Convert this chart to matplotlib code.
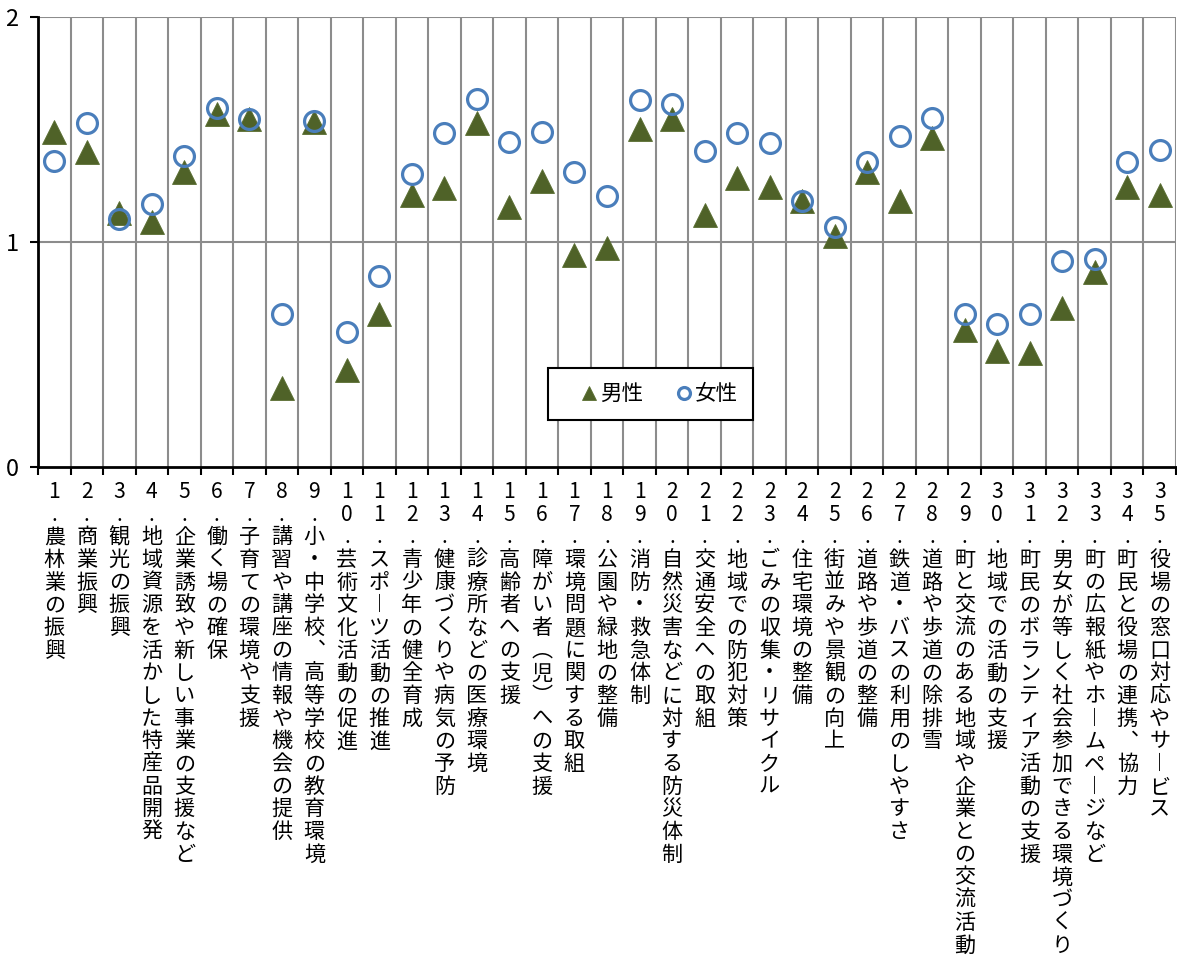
import matplotlib
matplotlib.use("Agg")
import matplotlib.pyplot as plt
from matplotlib.ticker import FixedLocator

plt.rcParams['font.family'] = ['Noto Sans CJK JP', 'DejaVu Sans']

categories = [
    "1.農林業の振興", "2.商業振興", "3.観光の振興", "4.地域資源を活かした特産品開発",
    "5.企業誘致や新しい事業の支援など", "6.働く場の確保", "7.子育ての環境や支援",
    "8.講習や講座の情報や機会の提供", "9.小・中学校、高等学校の教育環境",
    "10.芸術文化活動の促進", "11.スポーツ活動の推進", "12.青少年の健全育成",
    "13.健康づくりや病気の予防", "14.診療所などの医療環境", "15.高齢者への支援",
    "16.障がい者（児）への支援", "17.環境問題に関する取組", "18.公園や緑地の整備",
    "19.消防・救急体制", "20.自然災害などに対する防災体制", "21.交通安全への取組",
    "22.地域での防犯対策", "23.ごみの収集・リサイクル", "24.住宅環境の整備",
    "25.街並みや景観の向上", "26.道路や歩道の整備", "27.鉄道・バスの利用のしやすさ",
    "28.道路や歩道の除排雪", "29.町と交流のある地域や企業との交流活動",
    "30.地域での活動の支援", "31.町民のボランティア活動の支援",
    "32.男女が等しく社会参加できる環境づくり", "33.町の広報紙やホームページなど",
    "34.町民と役場の連携、協力", "35.役場の窓口対応やサービス",
]

male = [1.49, 1.40, 1.13, 1.09, 1.31, 1.57, 1.545, 0.35, 1.535, 0.43,
        0.68, 1.21, 1.24, 1.53, 1.155, 1.27, 0.94, 0.975, 1.50, 1.545,
        1.12, 1.285, 1.245, 1.18, 1.025, 1.31, 1.18, 1.46, 0.61, 0.515,
        0.505, 0.705, 0.865, 1.245, 1.21]
female = [1.36, 1.53, 1.10, 1.17, 1.38, 1.595, 1.547, 0.68, 1.538, 0.60,
          0.85, 1.30, 1.485, 1.635, 1.445, 1.49, 1.31, 1.205, 1.63, 1.615,
          1.405, 1.485, 1.44, 1.18, 1.065, 1.355, 1.47, 1.55, 0.68, 0.635,
          0.68, 0.915, 0.925, 1.355, 1.41]

series_labels = ["男性", "女性"]
yticks = [0, 1, 2]

# vertical-writing presentation forms
VERT = {"（": "︵", "）": "︶", "、": "︑", "ー": "︱"}

def vertical(s):
    return "\n".join(VERT.get(ch, ch) for ch in s)

fig = plt.figure(figsize=(11.77, 9.55), dpi=100)
ax = fig.add_axes([38/1177, 1 - 467/955, 1138/1177, 450/955])

x = list(range(1, len(categories) + 1))
ax.plot(x, male, linestyle='none', marker='^', markersize=17,
        color='#4F6228', markeredgecolor='#5a6e32', markeredgewidth=0.6,
        label=series_labels[0], zorder=3)
ax.plot(x, female, linestyle='none', marker='o', markersize=14.3,
        markerfacecolor='none', markeredgecolor='#4A7EBB', markeredgewidth=2.3,
        label=series_labels[1], zorder=4)

ax.set_xlim(0.5, len(categories) + 0.5)
ax.set_ylim(0, 2)

# category labels
ax.set_xticks(x)
ax.set_xticklabels([vertical(c) for c in categories], fontsize=15.2,
                   va='top', linespacing=1.04)
ax.tick_params(axis='x', which='major', length=0, pad=10)
bounds = [i + 0.5 for i in range(0, len(categories) + 1)]
ax.xaxis.set_minor_locator(FixedLocator(bounds))
ax.tick_params(axis='x', which='minor', length=6, width=1.5, direction='out', color='black')

ax.set_yticks(yticks)
ax.set_yticklabels([str(v) for v in yticks], fontsize=17)
ax.tick_params(axis='y', length=6, width=1.5, direction='out', pad=8)

# grid
for b in bounds[1:]:
    ax.axvline(b, color='#8c8c8c', linewidth=1.5, zorder=1)
for yv in yticks[1:]:
    ax.axhline(yv, color='#8c8c8c', linewidth=1.5, zorder=1)

for s in ['top', 'right']:
    ax.spines[s].set_visible(False)
ax.spines['left'].set_linewidth(2)
ax.spines['bottom'].set_linewidth(2)
ax.spines['left'].set_zorder(5)
ax.spines['bottom'].set_zorder(5)

leg = ax.legend(loc='upper left', bbox_to_anchor=((548 - 38) / 1138, (467 - 368) / 450),
                ncol=2, fontsize=15.5, markerscale=0.6, frameon=True, fancybox=False,
                edgecolor='black', framealpha=1, handlelength=2.42,
                handletextpad=-0.7, columnspacing=0.7, borderpad=0.7,
                borderaxespad=0)
leg.get_frame().set_linewidth(1.5)
leg.set_zorder(6)

fig.savefig("out.png", dpi=100, facecolor='white')
